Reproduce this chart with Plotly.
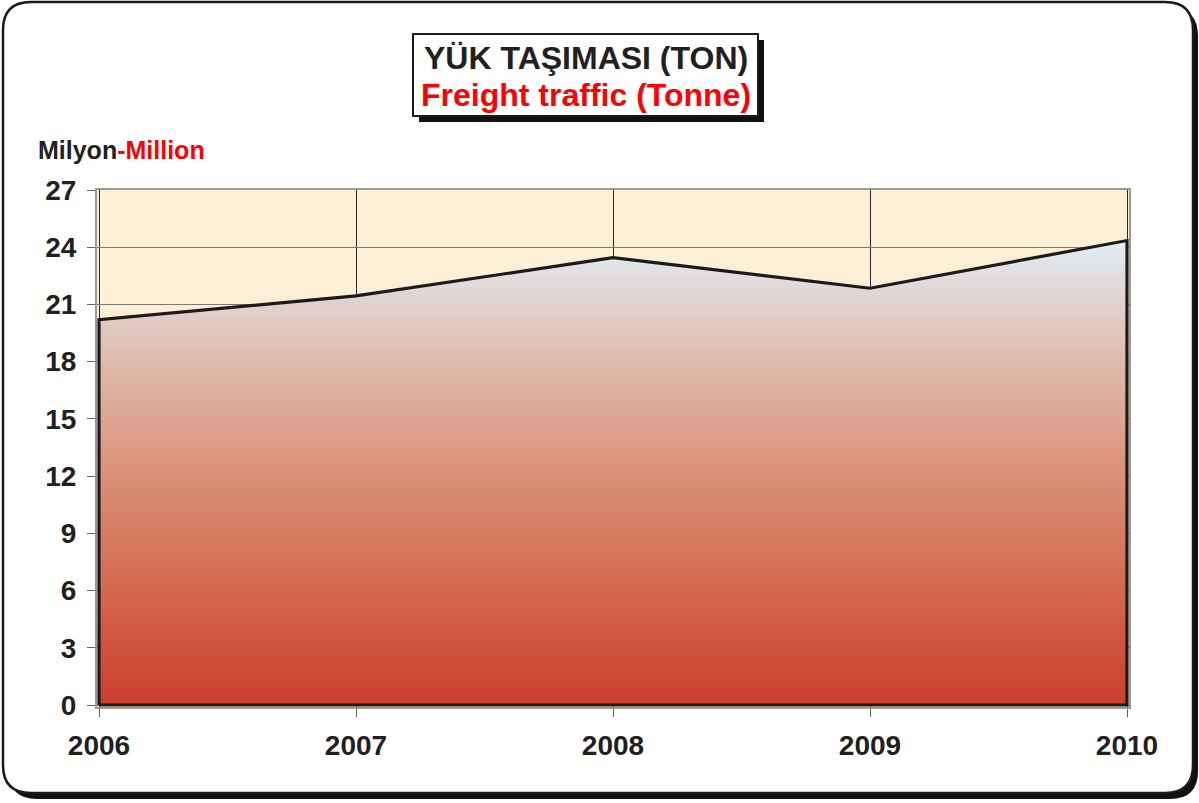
import plotly.graph_objects as go

# ---- data ----
years = [2006, 2007, 2008, 2009, 2010]
year_labels = ["2006", "2007", "2008", "2009", "2010"]
freight_mt = [20.2, 21.45, 23.45, 21.85, 24.35]
y_ticks = [0, 3, 6, 9, 12, 15, 18, 21, 24, 27]

# ---- layout geometry (pixels) ----
W_PX, H_PX = 1199, 803
L, R, T, B = 97, 1129, 190, 707


def px(x):
    return (x - L) / (R - L)


def py(y):
    return (B - y) / (B - T)


def rrect(x0, y0, x1, y1, r):
    pts = [
        ("M", x0 + r, y0), ("L", x1 - r, y0), ("Q", x1, y0, x1, y0 + r),
        ("L", x1, y1 - r), ("Q", x1, y1, x1 - r, y1), ("L", x0 + r, y1),
        ("Q", x0, y1, x0, y1 - r), ("L", x0, y0 + r), ("Q", x0, y0, x0 + r, y0),
    ]
    s = ""
    for p in pts:
        cmd = p[0]
        coords = p[1:]
        parts = []
        for i in range(0, len(coords), 2):
            parts.append(f"{px(coords[i]):.5f},{py(coords[i+1]):.5f}")
        s += cmd + " " + " ".join(parts) + " "
    return s + "Z"


xpad = 2 / ((R - L - 4) / (years[-1] - years[0]))
ypad = 2 / ((B - T - 2) / 27)

poly_x = [years[0]] + years + [years[-1], years[0]]
poly_y = [0] + freight_mt + [0, 0]

fig = go.Figure()
fig.add_trace(go.Scatter(
    x=poly_x, y=poly_y, mode="lines", fill="toself",
    line=dict(color="#1c1a1a", width=3.2),
    fillgradient=dict(
        type="vertical",
        start=0, stop=max(freight_mt),
        colorscale=[
            [0.0, "#cb3e2a"],
            [0.25, "#d4684f"],
            [0.5, "#da9179"],
            [0.75, "#dfbcae"],
            [0.9, "#e1d9d7"],
            [1.0, "#e2eef7"],
        ],
    ),
    hoverinfo="skip", showlegend=False,
))

font_fam = "Liberation Sans, Arial, sans-serif"

shapes = [
    # outer frame shadow
    dict(type="path", path=rrect(9, 8, 1198, 799, 28), xref="paper", yref="paper",
         fillcolor="#111111", line=dict(width=0), layer="below"),
    # outer frame
    dict(type="path", path=rrect(3, 2, 1193, 793, 28), xref="paper", yref="paper",
         fillcolor="white", line=dict(color="#1a1a1a", width=2.5), layer="below"),
    # plot area cream background
    dict(type="rect", x0=0, x1=1, y0=0, y1=1, xref="paper", yref="paper",
         fillcolor="#fcefd5", line=dict(width=0), layer="below"),
    # title box shadow
    dict(type="rect", x0=px(419), x1=px(764), y0=py(122), y1=py(40), xref="paper", yref="paper",
         fillcolor="#111111", line=dict(width=0), layer="below"),
    # title box
    dict(type="rect", x0=px(413), x1=px(758), y0=py(116), y1=py(34), xref="paper", yref="paper",
         fillcolor="white", line=dict(color="#1a1a1a", width=2), layer="below"),
]

annotations = [
    dict(text="<b>YÜK TAŞIMASI (TON)</b>", x=px(586), y=py(58), xref="paper", yref="paper",
         xanchor="center", yanchor="middle", showarrow=False,
         font=dict(family=font_fam, size=32, color="#231f20")),
    dict(text="<b>Freight traffic (Tonne)</b>", x=px(586), y=py(95), xref="paper", yref="paper",
         xanchor="center", yanchor="middle", showarrow=False,
         font=dict(family=font_fam, size=32, color="#ff0000")),
    dict(text="<b>Milyon<span style='color:#ff0000'>-Million</span></b>", x=px(36), y=py(150),
         xref="paper", yref="paper", xanchor="left", yanchor="middle", showarrow=False,
         font=dict(family=font_fam, size=25, color="#231f20")),
]

fig.update_layout(
    width=W_PX, height=H_PX,
    margin=dict(l=L, r=W_PX - R, t=T, b=H_PX - B, pad=0),
    paper_bgcolor="white",
    plot_bgcolor="rgba(0,0,0,0)",
    shapes=shapes,
    annotations=annotations,
    showlegend=False,
    xaxis=dict(
        range=[years[0] - xpad, years[-1] + xpad],
        tickvals=years, ticktext=year_labels,
        showgrid=True, gridcolor="#2a2a2a", gridwidth=1,
        showline=True, linecolor="#9a9a9a", linewidth=2, mirror=True,
        ticks="outside", ticklen=8, tickcolor="#666666", tickwidth=1,
        tickfont=dict(family=font_fam, size=28, color="#231f20", weight="bold"),
        ticklabelstandoff=4,
        zeroline=False, layer="below traces", fixedrange=True,
    ),
    yaxis=dict(
        range=[-ypad, 27],
        tickvals=y_ticks, ticktext=[str(v) for v in y_ticks],
        showgrid=True, gridcolor="#7a7a7a", gridwidth=1,
        showline=True, linecolor="#9a9a9a", linewidth=2, mirror=True,
        ticks="outside", ticklen=8, tickcolor="#666666", tickwidth=1,
        tickfont=dict(family=font_fam, size=28, color="#231f20", weight="bold"),
        ticklabelstandoff=5,
        zeroline=False, layer="below traces", fixedrange=True,
    ),
)

fig.write_html(
    "out.html",
    config={"displayModeBar": False},
    post_script="document.body.style.margin='0';document.body.style.overflow='hidden';",
)
